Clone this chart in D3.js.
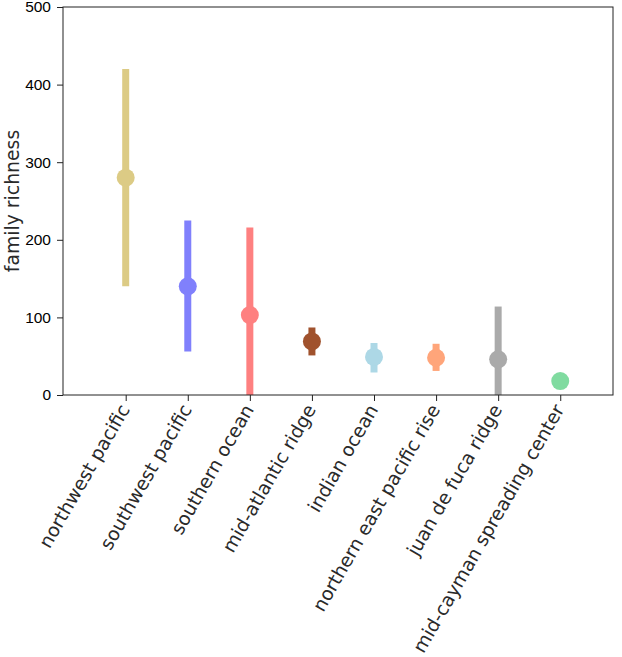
<!DOCTYPE html>
<html>
<head>
<meta charset="utf-8">
<script src="https://cdn.jsdelivr.net/npm/d3@7"></script>
<style>
  body { margin: 0; background: #fff; }
  .tick text { font-family: "Liberation Sans", Arial, sans-serif; font-size: 15.5px; fill: #000; }
  .cat { font-family: "DejaVu Sans", sans-serif; font-weight: normal; fill: #2a2a2a; }
</style>
</head>
<body>
<div id="chart"></div>
<script>
// regions, mean family richness and the ends of each error bar
let regions = ["northwest pacific", "southwest pacific", "southern ocean", "mid-atlantic ridge",
               "indian ocean", "northern east pacific rise", "juan de fuca ridge", "mid-cayman spreading center"];
let richness = [280, 140, 103, 69, 49, 48, 46, 18];
let lower = [140, 56, -11, 51, 29, 31, -22, 18];
let upper = [420, 225, 216, 87, 67, 66, 114, 18];
let colors = ["#dccb85", "#8080fc", "#fe8080", "#a0522d", "#add8e6", "#ffa57a", "#aaaaaa", "#80dba0"];
let yTicks = [0, 100, 200, 300, 400, 500];

let margin = {top: 7, right: 9, bottom: 262, left: 63},
    width = 622 - margin.left - margin.right,
    height = 657 - margin.top - margin.bottom;

let svg = d3.select("#chart").append("svg")
    .attr("width", 622)
    .attr("height", 657);

let g = svg.append("g")
    .attr("transform", "translate(" + margin.left + "," + margin.top + ")");

let xScale = d3.scaleLinear()
    .domain([-1.01, 7.85])
    .range([0, width]);

let yScale = d3.scaleLinear()
    .domain([0, 500])
    .range([height, 0]);

g.append("clipPath").attr("id", "clip")
  .append("rect").attr("width", width).attr("height", height);

let marks = g.append("g").attr("clip-path", "url(#clip)");

let data = regions.map(function(d, i) {
  return {name: d, value: richness[i], lo: lower[i], hi: upper[i], color: colors[i], i: i};
});

marks.selectAll(".err")
    .data(data.filter(function(d) { return d.hi > d.lo; }))
  .enter().append("line")
    .attr("class", "err")
    .attr("x1", function(d) { return xScale(d.i); })
    .attr("x2", function(d) { return xScale(d.i); })
    .attr("y1", function(d) { return yScale(d.lo); })
    .attr("y2", function(d) { return yScale(d.hi); })
    .attr("stroke", function(d) { return d.color; })
    .attr("stroke-width", 7);

marks.selectAll(".pt")
    .data(data)
  .enter().append("circle")
    .attr("class", "pt")
    .attr("cx", function(d) { return xScale(d.i); })
    .attr("cy", function(d) { return yScale(d.value); })
    .attr("r", 9)
    .attr("fill", function(d) { return d.color; });

// frame
g.append("rect")
    .attr("width", width)
    .attr("height", height)
    .attr("fill", "none")
    .attr("stroke", "#222")
    .attr("stroke-width", 1);

let yAxis = d3.axisLeft(yScale).tickValues(yTicks).tickSize(6).tickPadding(6);
let yAxis_g = g.append("g").attr("class", "y axis").call(yAxis);
yAxis_g.select(".domain").remove();
yAxis_g.selectAll(".tick line").attr("stroke", "#222");

let xAxis = d3.axisBottom(xScale).tickValues(d3.range(regions.length)).tickSize(6).tickFormat("");
let xAxis_g = g.append("g")
    .attr("class", "x axis")
    .attr("transform", "translate(0," + height + ")")
    .call(xAxis);
xAxis_g.select(".domain").remove();
xAxis_g.selectAll(".tick line").attr("stroke", "#222");

// size the label font so the longest name spans about 283px, like the original
let probe = svg.append("text").attr("class", "cat").style("font-size", "20px").text(regions[regions.length - 1]);
let fontSize = 20 * 283 / probe.node().getComputedTextLength();
probe.remove();

g.selectAll(".cat")
    .data(data)
  .enter().append("text")
    .attr("class", "cat")
    .style("font-size", fontSize + "px")
    .attr("text-anchor", "end")
    .attr("transform", function(d) {
      return "translate(" + (xScale(d.i) - 1) + "," + (height + 11) + ") rotate(-60)";
    })
    .attr("dy", "0.35em")
    .text(function(d) { return d.name; });

svg.append("text")
    .attr("class", "cat")
    .style("font-size", fontSize + "px")
    .attr("text-anchor", "middle")
    .attr("transform", "translate(12," + (margin.top + height / 2) + ") rotate(-90)")
    .attr("dy", "0.35em")
    .text("family richness");
</script>
</body>
</html>
